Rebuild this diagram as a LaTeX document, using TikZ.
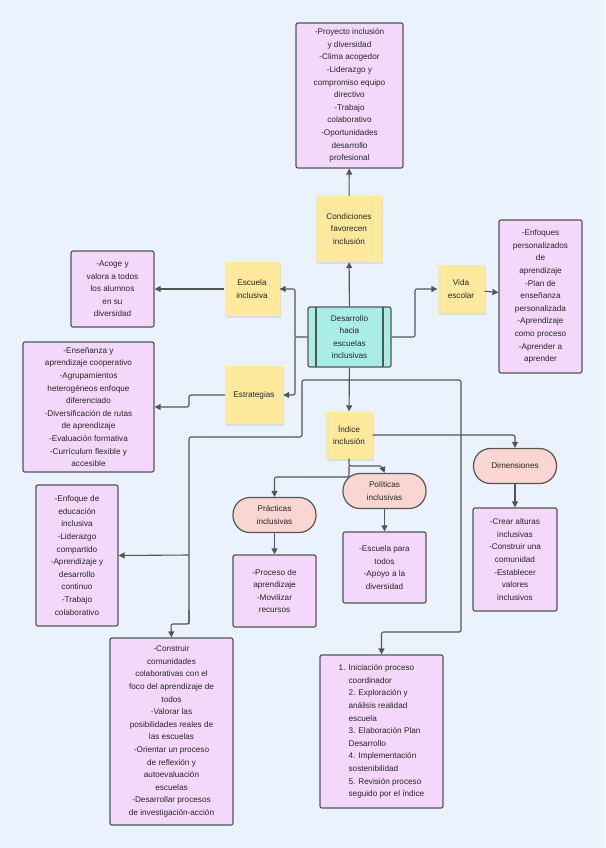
\documentclass[tikz,border=0pt]{standalone}
\usepackage{fontspec}
\setmainfont{Liberation Sans}
\usepackage{xcolor}
\usetikzlibrary{arrows.meta,shadows}

\definecolor{fondo}{HTML}{EAF3FD}
\definecolor{lila}{HTML}{F3D8FB}
\definecolor{nota}{HTML}{FFE99C}
\definecolor{turquesa}{HTML}{A8EEE6}
\definecolor{rosa}{HTML}{FBD5D1}
\definecolor{borde}{HTML}{555555}

\begin{document}
\begin{tikzpicture}[x=1pt,y=-1pt,
	    every node/.style={font=\fontsize{8.2}{12.6}\selectfont, text=black!85, inner sep=1pt},
	    caja/.style={draw=borde, line width=1.2pt, fill=lila, rounded corners=2pt, align=center},
	    nota/.style={fill=nota, align=center, drop shadow={opacity=0.18, shadow xshift=1pt, shadow yshift=-2pt}},
	    ovalo/.style={draw=borde, line width=1.2pt, fill=rosa, rounded corners=17pt, align=center, minimum width=83pt, minimum height=35pt},
	    flecha/.style={draw=borde, line width=1.1pt, rounded corners=2pt, -{Triangle[length=6pt,width=6pt]}},
	    linea/.style={draw=borde, line width=1.1pt, rounded corners=2pt}]
	
	    \fill[fondo] (0,0) rectangle (605,848);
	
	    % centro y notas
	    \node[draw=borde, line width=1.2pt, fill=turquesa, rounded corners=2pt, align=center, minimum width=83pt, minimum height=60pt] (centro) at (349.5,337) {Desarrollo\\hacia\\escuelas\\inclusivas};
	    \draw[borde, line width=1.1pt] (316,307) -- (316,367) (383,307) -- (383,367);
	    \node[nota, minimum width=66pt, minimum height=66pt] (condiciones) at (349,229) {Condiciones\\favorecen\\inclusión};
	    \node[nota, minimum width=55pt, minimum height=54pt] (escuela) at (252,289) {Escuela\\inclusiva};
	    \node[nota, minimum width=58pt, minimum height=58pt] (estrategias) at (254,395) {Estrategias};
	    \node[nota, minimum width=47pt, minimum height=48pt] (vida) at (461,289) {Vida\\escolar};
	    \node[nota, minimum width=47pt, minimum height=47pt] (indice) at (349,435) {Índice\\inclusión};
	
	    % ovalos
	    \node[ovalo] (dimensiones) at (515,466) {Dimensiones};
	    \node[ovalo] (politicas) at (384.5,491) {Políticas\\inclusivas};
	    \node[ovalo] (practicas) at (274.5,515) {Prácticas\\inclusivas};
	
	    % cajas
	    \node[caja, minimum width=107pt, minimum height=145pt] (condlista) at (349.5,95.5) {-Proyecto inclusión\\y diversidad\\-Clima acogedor\\-Liderazgo y\\compromiso equipo\\directivo\\-Trabajo\\colaborativo\\-Oportunidades\\desarrollo\\profesional};
	    \node[caja, minimum width=83pt, minimum height=76pt] (acoge) at (112.5,289) {-Acoge y\\valora a todos\\los alumnos\\en su\\diversidad};
	    \node[caja, minimum width=131pt, minimum height=130pt] (ensenanza) at (88.5,407) {-Enseñanza y\\aprendizaje cooperativo\\-Agrupamientos\\heterogéneos enfoque\\diferenciado\\-Diversificación de rutas\\de aprendizaje\\-Evaluación formativa\\-Currículum flexible y\\accesible};
	    \node[caja, minimum width=83pt, minimum height=153pt] (enfoques) at (540.5,296.5) {-Enfoques\\personalizados\\de\\aprendizaje\\-Plan de\\enseñanza\\personalizada\\-Aprendizaje\\como proceso\\-Aprender a\\aprender};
	    \node[caja, minimum width=82pt, minimum height=141pt] (liderazgo) at (77,555.5) {-Enfoque de\\educación\\inclusiva\\-Liderazgo\\compartido\\-Aprendizaje y\\desarrollo\\continuo\\-Trabajo\\colaborativo};
	    \node[caja, minimum width=83pt, minimum height=72pt] (proceso) at (274.5,591) {-Proceso de\\aprendizaje\\-Movilizar\\recursos};
	    \node[caja, minimum width=83pt, minimum height=71pt] (apoyo) at (384.5,567.5) {-Escuela para\\todos\\-Apoyo a la\\diversidad};
	    \node[caja, minimum width=84pt, minimum height=103pt] (valores) at (515,559.5) {-Crear alturas\\inclusivas\\-Construir una\\comunidad\\-Establecer\\valores\\inclusivos};
	    \node[caja, minimum width=123pt, minimum height=187pt] (comunidades) at (171.5,731.5) {-Construir\\comunidades\\colaborativas con el\\foco del aprendizaje de\\todos\\-Valorar las\\posibilidades reales de\\las escuelas\\-Orientar un proceso\\de reflexión y\\autoevaluación\\escuelas\\-Desarrollar procesos\\de investigación-acción};
	    \node[caja, align=left, minimum width=123pt, minimum height=153pt] (fases) at (381.5,731.5) {1. Iniciación proceso\\\phantom{1. }coordinador\\\phantom{1. }2. Exploración y\\\phantom{1. }análisis realidad\\\phantom{1. }escuela\\\phantom{1. }3. Elaboración Plan\\\phantom{1. }Desarrollo\\\phantom{1. }4. Implementación\\\phantom{1. }sostenibilidad\\\phantom{1. }5. Revisión proceso\\\phantom{1. }seguido por el índice};
	
	    % conectores
	    \draw[flecha] (centro) -- (condiciones);
	    \draw[flecha] (condiciones) -- (condlista);
	    \draw[flecha] (centro.west) -| (295,289) -- (escuela.east);
	    \draw[flecha] (escuela) -- (acoge);
	    \draw[flecha] (295,337) |- (estrategias.east);
	    \draw[flecha] (estrategias.west) -| (189,407) -- (ensenanza.east);
	    \draw[flecha] (centro.east) -| (415,289) -- (vida.west);
	    \draw[flecha] (vida) -- (enfoques);
	    \draw[flecha] (centro) -- (indice);
	    \draw[linea] (349,380) -| (302,437) -| (189,624);
	    \draw[flecha] (189,555) -- (liderazgo.east);
	    \draw[flecha] (189,610) |- (171,624) -- (comunidades.north);
	    \draw[flecha] (349,380) -| (461,632) -| (fases.north);
	    \draw[flecha] (indice.east) -| (dimensiones.north);
	    \draw[flecha] (indice.south) |- (382,466) -- (politicas.north);
	    \draw[flecha] (349,466) |- (274.5,477) -- (practicas.north);
	    \draw[flecha] (dimensiones) -- (valores);
	    \draw[flecha] (politicas) -- (apoyo);
	    \draw[flecha] (practicas) -- (proceso);
	
	\end{tikzpicture}
\end{document}
